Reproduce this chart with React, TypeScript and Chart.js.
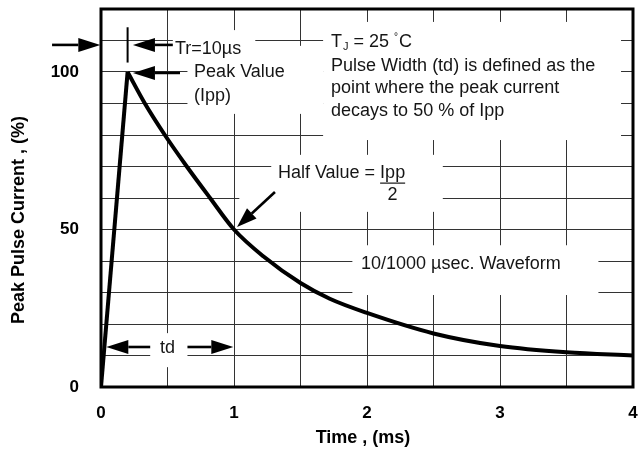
import React, { useEffect, useRef } from "react";
import { Chart, registerables } from "chart.js";

Chart.register(...registerables);

// ---- data ----
const riseTimes = [0, 0.2];
const riseValues = [0, 100];
const decayTimes = [0.2, 0.33, 0.48, 0.645, 0.82, 1.0, 1.22, 1.5, 1.72, 2.0, 2.5, 3.0, 3.5, 4.0];
const decayValues = [100, 90, 80, 70, 60, 50, 41.5, 33, 28, 23.5, 17, 13, 11, 10];
const xTickLabels = ["0", "1", "2", "3", "4"];
const yTickLabels = ["0", "50", "100"];
const xTitle = "Time , (ms)";
const yTitle = "Peak Pulse Current , (%)";
const noteLines = [
  "Pulse Width (td) is defined as the",
  "point where the peak current",
  "decays to 50 % of Ipp",
];

const FONT = '"Liberation Sans", Arial, sans-serif';
const TXT = "#151515";

function arrow(ctx: CanvasRenderingContext2D, x1: number, y1: number, x2: number, y2: number, head = 22, width = 14, lw = 2.6) {
  const ang = Math.atan2(y2 - y1, x2 - x1);
  const bx = x2 - head * Math.cos(ang);
  const by = y2 - head * Math.sin(ang);
  ctx.save();
  ctx.strokeStyle = "#000";
  ctx.fillStyle = "#000";
  ctx.lineWidth = lw;
  ctx.beginPath();
  ctx.moveTo(x1, y1);
  ctx.lineTo(bx, by);
  ctx.stroke();
  const nx = -Math.sin(ang) * width / 2;
  const ny = Math.cos(ang) * width / 2;
  ctx.beginPath();
  ctx.moveTo(x2, y2);
  ctx.lineTo(bx + nx, by + ny);
  ctx.lineTo(bx - nx, by - ny);
  ctx.closePath();
  ctx.fill();
  ctx.restore();
}

const annotPlugin = {
  id: "annot",
  beforeDatasetsDraw(chart: any) {
    const ctx = chart.ctx as CanvasRenderingContext2D;
    const xs = chart.scales.x;
    const ys = chart.scales.y;
    const px = (t: number) => xs.getPixelForValue(t);
    const py = (v: number) => ys.getPixelForValue(v);
    // white masks behind the annotation texts (grid gaps)
    const boxes = [
      [0.54, 1.16, 113.3, 103.8],
      [0.65, 1.67, 108.3, 86.7],
      [1.67, 3.91, 115.9, 78.4],
      [1.28, 2.57, 73.7, 55.6],
      [1.04, 1.28, 64.0, 55.6],
      [1.89, 3.74, 45.0, 29.2],
      [0.37, 0.65, 17.1, 6.3],
    ];
    ctx.save();
    ctx.fillStyle = "#fff";
    for (const [t1, t2, v1, v2] of boxes) {
      ctx.fillRect(px(t1), py(v1), px(t2) - px(t1), py(v2) - py(v1));
    }
    ctx.restore();
  },
  afterDatasetsDraw(chart: any) {
    const ctx = chart.ctx as CanvasRenderingContext2D;
    const ca = chart.chartArea;
    const xs = chart.scales.x;
    const ys = chart.scales.y;
    const px = (t: number) => xs.getPixelForValue(t);
    const py = (v: number) => ys.getPixelForValue(v);

    // frame
    ctx.save();
    ctx.strokeStyle = "#000";
    ctx.lineWidth = 3;
    ctx.strokeRect(ca.left, ca.top, ca.right - ca.left, ca.bottom - ca.top);
    ctx.restore();

    // arrows
    arrow(ctx, px(-0.368), py(108.6), px(-0.005), py(108.6));
    ctx.save();
    ctx.strokeStyle = "#000";
    ctx.lineWidth = 2;
    ctx.beginPath();
    ctx.moveTo(px(0.2), py(114.2));
    ctx.lineTo(px(0.2), py(103));
    ctx.stroke();
    ctx.restore();
    arrow(ctx, px(0.54), py(108.6), px(0.24), py(108.6));
    arrow(ctx, px(0.594), py(99.7), px(0.24), py(99.7));
    arrow(ctx, px(1.308), py(61.9), px(1.023), py(50.8), 20, 14);
    arrow(ctx, px(0.37), py(12.7), px(0.04), py(12.7));
    arrow(ctx, px(0.65), py(12.7), px(0.995), py(12.7));

    // texts
    ctx.save();
    ctx.fillStyle = TXT;
    ctx.textBaseline = "middle";
    ctx.textAlign = "left";
    ctx.font = `18px ${FONT}`;
    ctx.fillText("Tr=10µs", px(0.556), py(107.4));
    ctx.fillText("Peak Value", px(0.70), py(100));
    ctx.fillText("(Ipp)", px(0.70), py(92.4));

    // T_J = 25 °C
    let x = px(1.73);
    const yTj = py(109.4);
    ctx.fillText("T", x, yTj);
    x += ctx.measureText("T").width;
    ctx.font = `11px ${FONT}`;
    ctx.fillText("J", x + 1, yTj + 5);
    x += ctx.measureText("J").width + 1;
    ctx.font = `18px ${FONT}`;
    ctx.fillText(" = 25 ", x, yTj);
    x += ctx.measureText(" = 25 ").width;
    ctx.font = `10px ${FONT}`;
    ctx.fillText("°", x, yTj - 5);
    x += ctx.measureText("°").width + 1;
    ctx.font = `18px ${FONT}`;
    ctx.fillText("C", x, yTj);

    const lineVals = [102.0, 94.8, 87.6];
    noteLines.forEach((s, i) => ctx.fillText(s, px(1.73), py(lineVals[i])));

    // Half Value = Ipp / 2
    const hx = px(1.33);
    const hy = py(67.9);
    const pre = "Half Value = ";
    ctx.fillText(pre, hx, hy);
    const ix = hx + ctx.measureText(pre).width;
    const iw = ctx.measureText("Ipp").width;
    ctx.fillText("Ipp", ix, hy);
    ctx.strokeStyle = TXT;
    ctx.lineWidth = 1.2;
    ctx.beginPath();
    ctx.moveTo(ix, hy + 10);
    ctx.lineTo(ix + iw, hy + 10);
    ctx.stroke();
    ctx.textAlign = "center";
    ctx.fillText("2", ix + iw / 2, py(61));

    ctx.textAlign = "left";
    ctx.fillText("10/1000 µsec. Waveform", px(1.955), py(39));
    ctx.textAlign = "center";
    ctx.fillText("td", px(0.5), py(12.4));

    // axis titles
    ctx.fillStyle = "#000";
    ctx.font = `bold 18px ${FONT}`;
    ctx.fillText(xTitle, (ca.left + ca.right) / 2 - 4, 438);
    ctx.translate(19, 220);
    ctx.rotate(-Math.PI / 2);
    ctx.fillText(yTitle, 0, 0);
    ctx.restore();
  },
};

export default function App() {
  const ref = useRef<HTMLCanvasElement | null>(null);
  useEffect(() => {
    if (!ref.current) return;
    const chart = new Chart(ref.current, {
      type: "line",
      data: {
        datasets: [
          {
            data: riseTimes.map((t, i) => ({ x: t, y: riseValues[i] })),
            borderColor: "#000",
            borderWidth: 4,
            pointRadius: 0,
            tension: 0,
          },
          {
            data: decayTimes.map((t, i) => ({ x: t, y: decayValues[i] })),
            borderColor: "#000",
            borderWidth: 4,
            pointRadius: 0,
            cubicInterpolationMode: "monotone",
          },
        ],
      },
      options: {
        animation: false,
        responsive: false,
        devicePixelRatio: 1,
        events: [],
        layout: { padding: { top: 9, right: 5, left: 0, bottom: 0 } },
        plugins: { legend: { display: false }, tooltip: { enabled: false }, title: { display: false } },
        scales: {
          x: {
            type: "linear",
            min: 0,
            max: 4,
            afterFit: (s: any) => {
              s.height = 65;
              s.paddingLeft = 0;
              s.paddingRight = 0;
            },
            ticks: {
              stepSize: 0.5,
              autoSkip: false,
              maxRotation: 0,
              padding: 16,
              color: "#000",
              font: { family: FONT, size: 17, weight: "bold" },
              callback: (v: any) => (Number.isInteger(v) ? xTickLabels[v] : ""),
            },
            grid: { color: "#333", lineWidth: 1, drawTicks: false },
            border: { display: false },
          },
          y: {
            min: 0,
            max: 120,
            afterFit: (s: any) => {
              s.width = 101;
              s.paddingTop = 0;
              s.paddingBottom = 0;
            },
            ticks: {
              stepSize: 10,
              autoSkip: false,
              padding: 22,
              color: "#000",
              font: { family: FONT, size: 17, weight: "bold" },
              callback: (v: any) => (v % 50 === 0 ? yTickLabels[v / 50] : ""),
            },
            grid: { color: "#333", lineWidth: 1, drawTicks: false },
            border: { display: false },
          },
        },
      },
      plugins: [annotPlugin],
    } as any);
    return () => chart.destroy();
  }, []);
  return (
    <canvas
      ref={ref}
      width={638}
      height={452}
      style={{ position: "absolute", left: 0, top: 0, display: "block", background: "#fff" }}
    />
  );
}
